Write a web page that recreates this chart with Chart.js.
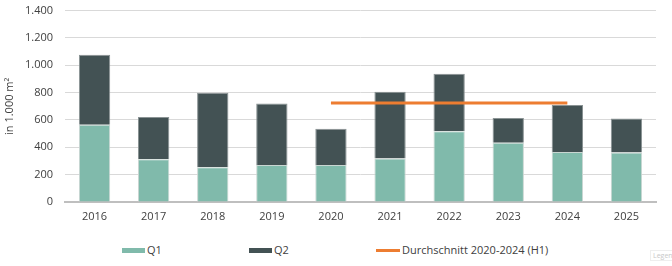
<!DOCTYPE html>
<html>
<head>
<meta charset="utf-8">
<script src="https://cdn.jsdelivr.net/npm/chart.js@4"></script>
<style>
  body { margin: 0; background: #fff; font-family: "Open Sans", sans-serif; overflow: hidden; }
  #wrap { position: relative; width: 672px; height: 266px; overflow: hidden; }
  #box { position: absolute; left: 0; top: -8px; width: 672px; height: 240px; }
  .lg { position: absolute; top: 243px; font-size: 11px; color: #404040; line-height: 14px; white-space: nowrap; }
  .sw { display: inline-block; width: 23px; height: 5px; vertical-align: middle; margin-right: 2px; margin-top: -2px; }
  .ln { display: inline-block; width: 24px; height: 3px; vertical-align: middle; margin-right: 2px; margin-top: -2px; background: #ED7D31; }
  #tag { position: absolute; left: 650px; top: 250px; font-size: 7px; color: #c8c8c8; border: 1px solid #eee; padding: 0 2px; }
</style>
</head>
<body>
<div id="wrap">
  <div id="box"><canvas id="barChart"></canvas></div>
  <div class="lg" style="left:122px"><span class="sw" style="background:#80BAAB"></span>Q1</div>
  <div class="lg" style="left:249px"><span class="sw" style="background:#435254"></span>Q2</div>
  <div class="lg" style="left:376px"><span class="ln"></span>Durchschnitt 2020-2024 (H1)</div>
  <div id="tag">Legend</div>
</div>
<script>
// Categories and values (in 1.000 m²)
var years = ['2016', '2017', '2018', '2019', '2020', '2021', '2022', '2023', '2024', '2025'];
var q1 = [565, 313, 255, 270, 270, 319, 518, 433, 365, 362];
var q2 = [512, 309, 545, 450, 265, 488, 421, 182, 345, 248];
var avg = [null, null, null, null, 724, 724, 724, 724, 724, null];
var yTicks = [0, 200, 400, 600, 800, 1000, 1200, 1400];

var tickFont = { family: 'Open Sans', size: 11 };

var data = {
    labels: years,
    datasets: [{
        type: 'line',
        label: 'Durchschnitt 2020-2024 (H1)',
        data: avg,
        borderColor: '#ED7D31',
        borderWidth: 3,
        pointRadius: 0,
        fill: false,
        order: 0
    }, {
        label: 'Q1',
        data: q1,
        backgroundColor: '#80BAAB',
        borderColor: '#c9d6d2',
        borderWidth: 1,
        order: 1
    }, {
        label: 'Q2',
        data: q2,
        backgroundColor: '#435254',
        borderColor: '#8a9394',
        borderWidth: 1,
        order: 1
    }]
};

var options = {
    responsive: false,
    animation: false,
    layout: { padding: { top: 2, right: 16, bottom: 0, left: 3 } },
    datasets: { bar: { barPercentage: 0.53, categoryPercentage: 1 } },
    plugins: {
        legend: { display: false },
        tooltip: { enabled: false }
    },
    scales: {
        x: {
            stacked: true,
            grid: { display: false, drawTicks: false },
            border: { color: '#bfbfbf', width: 2 },
            ticks: { color: '#404040', font: tickFont, padding: 8 },
            afterFit: function (scale) { scale.height = 30; }
        },
        y: {
            stacked: true,
            min: 0,
            max: 1400,
            afterBuildTicks: function (scale) {
                scale.ticks = yTicks.map(function (v) { return { value: v }; });
            },
            grid: { color: '#d9d9d9', drawTicks: false },
            border: { display: false },
            ticks: {
                color: '#404040',
                font: tickFont,
                padding: 12,
                callback: function (v) { return v.toLocaleString('de-DE'); }
            },
            title: {
                display: true,
                text: 'in 1.000 m²',
                color: '#404040',
                font: { family: 'Open Sans', size: 11 },
                padding: 0
            },
            afterFit: function (scale) { scale.width = 62; }
        }
    }
};

var canvas = document.getElementById('barChart');
canvas.width = 672;
canvas.height = 240;
var ctx = canvas.getContext('2d');
var barChart = new Chart(ctx, {
    type: 'bar',
    data: data,
    options: options
});
</script>
</body>
</html>
